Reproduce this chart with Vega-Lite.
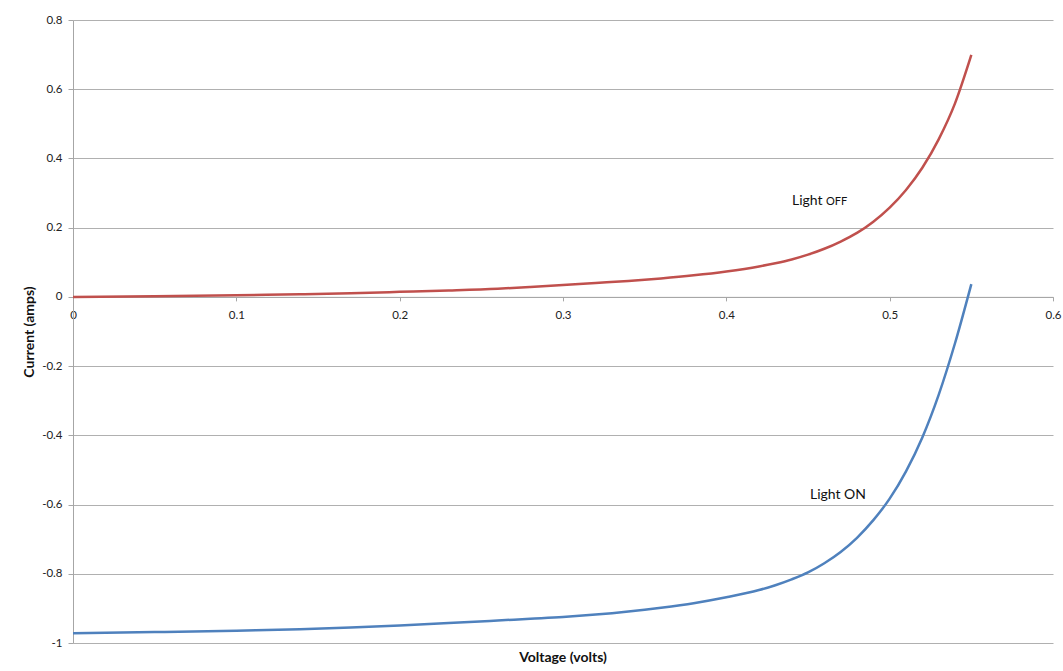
{
  "$schema": "https://vega.github.io/schema/vega-lite/v6.json",
  "width": 980,
  "height": 623,
  "autosize": {"type": "none"},
  "padding": {"left": 73, "top": 20, "right": 10, "bottom": 28},
  "background": "white",
  "title": {"text": "Voltage (volts)", "orient": "bottom", "anchor": "middle", "frame": "group", "font": "Lato", "fontSize": 14, "fontWeight": "bold", "color": "#111", "offset": 2},
  "config": {
    "font": "Lato",
    "view": {"stroke": null},
    "axis": {"labelFont": "Lato", "titleFont": "Lato", "labelColor": "#222", "titleColor": "#111", "labelFontSize": 11.5, "titleFontSize": 14, "titleFontWeight": "bold"}
  },
  "datasets": {
    "curves": [
      {"V": 0, "I": 0, "series": "Light OFF"},
      {"V": 0.05, "I": 0.0022, "series": "Light OFF"},
      {"V": 0.1, "I": 0.005, "series": "Light OFF"},
      {"V": 0.139, "I": 0.0077, "series": "Light OFF"},
      {"V": 0.17, "I": 0.0105, "series": "Light OFF"},
      {"V": 0.2, "I": 0.0145, "series": "Light OFF"},
      {"V": 0.23, "I": 0.0185, "series": "Light OFF"},
      {"V": 0.26, "I": 0.0235, "series": "Light OFF"},
      {"V": 0.28, "I": 0.0285, "series": "Light OFF"},
      {"V": 0.3, "I": 0.034, "series": "Light OFF"},
      {"V": 0.32, "I": 0.04, "series": "Light OFF"},
      {"V": 0.34, "I": 0.0461, "series": "Light OFF"},
      {"V": 0.36, "I": 0.0534, "series": "Light OFF"},
      {"V": 0.38, "I": 0.0623, "series": "Light OFF"},
      {"V": 0.4, "I": 0.0735, "series": "Light OFF"},
      {"V": 0.42, "I": 0.088, "series": "Light OFF"},
      {"V": 0.43, "I": 0.0972, "series": "Light OFF"},
      {"V": 0.44, "I": 0.108, "series": "Light OFF"},
      {"V": 0.45, "I": 0.122, "series": "Light OFF"},
      {"V": 0.46, "I": 0.139, "series": "Light OFF"},
      {"V": 0.47, "I": 0.16, "series": "Light OFF"},
      {"V": 0.48, "I": 0.185, "series": "Light OFF"},
      {"V": 0.49, "I": 0.2174, "series": "Light OFF"},
      {"V": 0.5, "I": 0.258, "series": "Light OFF"},
      {"V": 0.51, "I": 0.309, "series": "Light OFF"},
      {"V": 0.52, "I": 0.373, "series": "Light OFF"},
      {"V": 0.53, "I": 0.455, "series": "Light OFF"},
      {"V": 0.54, "I": 0.559, "series": "Light OFF"},
      {"V": 0.55, "I": 0.699, "series": "Light OFF"},
      {"V": 0, "I": -0.972, "series": "Light ON"},
      {"V": 0.05, "I": -0.9685, "series": "Light ON"},
      {"V": 0.1, "I": -0.9645, "series": "Light ON"},
      {"V": 0.139, "I": -0.9605, "series": "Light ON"},
      {"V": 0.17, "I": -0.9555, "series": "Light ON"},
      {"V": 0.2, "I": -0.9495, "series": "Light ON"},
      {"V": 0.23, "I": -0.9425, "series": "Light ON"},
      {"V": 0.26, "I": -0.935, "series": "Light ON"},
      {"V": 0.28, "I": -0.93, "series": "Light ON"},
      {"V": 0.3, "I": -0.925, "series": "Light ON"},
      {"V": 0.32, "I": -0.918, "series": "Light ON"},
      {"V": 0.34, "I": -0.909, "series": "Light ON"},
      {"V": 0.36, "I": -0.898, "series": "Light ON"},
      {"V": 0.38, "I": -0.885, "series": "Light ON"},
      {"V": 0.4, "I": -0.868, "series": "Light ON"},
      {"V": 0.42, "I": -0.847, "series": "Light ON"},
      {"V": 0.43, "I": -0.833, "series": "Light ON"},
      {"V": 0.44, "I": -0.816, "series": "Light ON"},
      {"V": 0.45, "I": -0.796, "series": "Light ON"},
      {"V": 0.46, "I": -0.7695, "series": "Light ON"},
      {"V": 0.47, "I": -0.737, "series": "Light ON"},
      {"V": 0.48, "I": -0.696, "series": "Light ON"},
      {"V": 0.49, "I": -0.645, "series": "Light ON"},
      {"V": 0.5, "I": -0.583, "series": "Light ON"},
      {"V": 0.51, "I": -0.504, "series": "Light ON"},
      {"V": 0.52, "I": -0.406, "series": "Light ON"},
      {"V": 0.53, "I": -0.283, "series": "Light ON"},
      {"V": 0.54, "I": -0.134, "series": "Light ON"},
      {"V": 0.55, "I": 0.037, "series": "Light ON"}
    ],
    "bigLabels": [
      {"V": 0.4402, "I": 0.276, "label": "Light"},
      {"V": 0.4512, "I": -0.571, "label": "Light ON"}
    ],
    "smallLabels": [
      {"V": 0.461, "I": 0.274, "label": "OFF"}
    ]
  },
  "layer": [
    {
      "data": {"name": "curves"},
      "mark": {"type": "line", "strokeWidth": 2.5, "interpolate": "monotone"},
      "encoding": {
        "x": {
          "field": "V", "type": "quantitative",
          "scale": {"domain": [0, 0.6], "nice": false, "zero": false},
          "axis": {
            "title": null, "values": [0, 0.1, 0.2, 0.3, 0.4, 0.5, 0.6],
            "offset": {"expr": "scale('y', 0) - height"},
            "grid": false, "domainColor": "#a6a6a6", "tickColor": "#a6a6a6",
            "tickSize": 4, "labelPadding": 9, "labelFlush": false, "labelOverlap": false,
            "format": "~g"
          }
        },
        "y": {
          "field": "I", "type": "quantitative",
          "scale": {"domain": [-1, 0.8], "nice": false, "zero": false},
          "axis": {
            "title": "Current (amps)", "values": [-1, -0.8, -0.6, -0.4, -0.2, 0, 0.2, 0.4, 0.6, 0.8],
            "grid": true, "gridColor": "#b0b0b0", "gridWidth": 1,
            "domainColor": "#a6a6a6", "tickColor": "#a6a6a6", "tickSize": 5, "labelPadding": 6,
            "labelFlush": false, "labelOverlap": false, "titlePadding": 5,
            "labelExpr": "datum.value == 0 ? '0' : (datum.value < 0 ? '-' + format(-datum.value, '.1~f') : format(datum.value, '.1~f'))"
          }
        },
        "color": {
          "field": "series", "type": "nominal",
          "scale": {"domain": ["Light OFF", "Light ON"], "range": ["#C0504D", "#4F81BD"]},
          "legend": null
        }
      }
    },
    {
      "data": {"name": "bigLabels"},
      "mark": {"type": "text", "align": "left", "baseline": "middle", "fontSize": 14, "font": "Lato", "color": "#111"},
      "encoding": {
        "x": {"field": "V", "type": "quantitative"},
        "y": {"field": "I", "type": "quantitative"},
        "text": {"field": "label"}
      }
    },
    {
      "data": {"name": "smallLabels"},
      "mark": {"type": "text", "align": "left", "baseline": "middle", "fontSize": 11, "font": "Lato", "color": "#111"},
      "encoding": {
        "x": {"field": "V", "type": "quantitative"},
        "y": {"field": "I", "type": "quantitative"},
        "text": {"field": "label"}
      }
    }
  ]
}
